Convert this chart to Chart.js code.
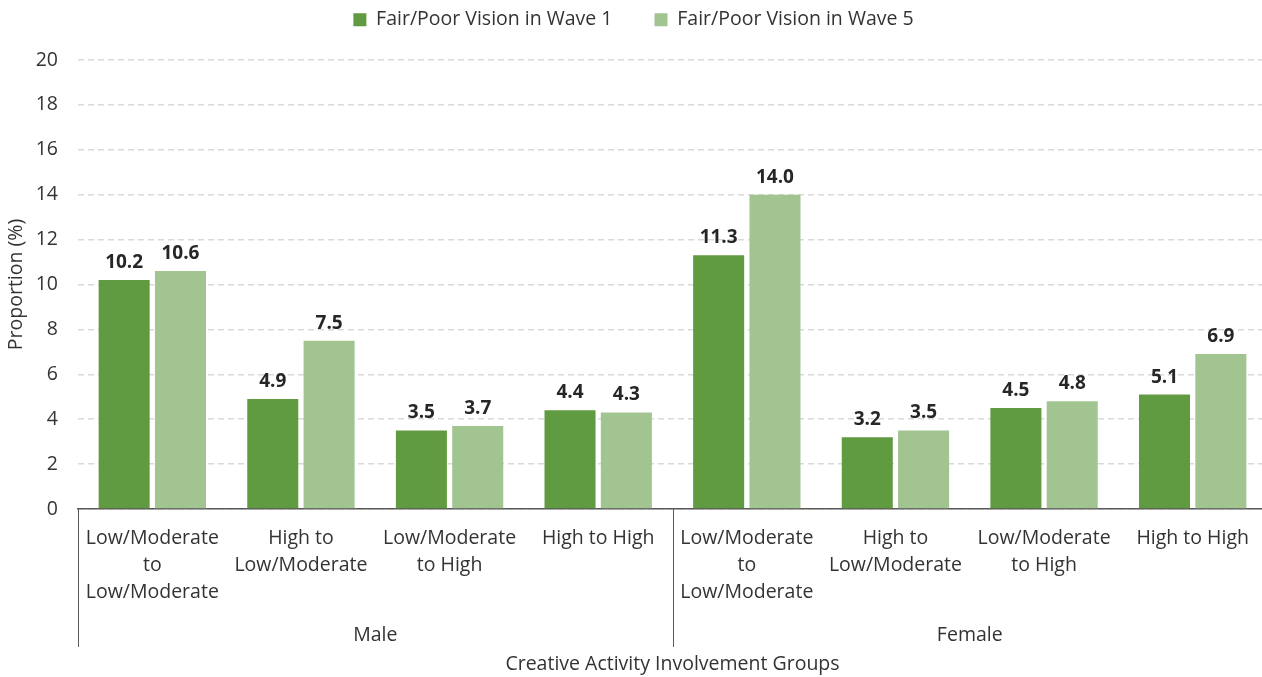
<!DOCTYPE html>
<html>
<head>
<meta charset="utf-8">
<script src="https://cdn.jsdelivr.net/npm/chart.js@4"></script>
<style>
  html, body { margin: 0; padding: 0; background: #fff; overflow: hidden; }
  #wrap { width: 1270px; height: 677px; }
</style>
</head>
<body>
<div id="wrap"><canvas id="chart"></canvas></div>
<script>
// data
const groups = ["Male", "Female"];
const subgroups = [
  ["Low/Moderate", "to", "Low/Moderate"],
  ["High to", "Low/Moderate"],
  ["Low/Moderate", "to High"],
  ["High to High"],
];
const categories = [...subgroups, ...subgroups];
const wave1 = [10.2, 4.9, 3.5, 4.4, 11.3, 3.2, 4.5, 5.1];
const wave5 = [10.6, 7.5, 3.7, 4.3, 14.0, 3.5, 4.8, 6.9];
const seriesNames = ["Fair/Poor Vision in Wave 1", "Fair/Poor Vision in Wave 5"];
const yMax = 20;
const yStep = 2;

const FONT = "'Open Sans', 'Noto Sans', sans-serif";
const SIZE = 19.5;
const TEXT = "#333333";
const AXIS = "#595959";

// legend gets a fixed height so the plot starts where the reference does
const legendHeight = {
  id: "legendHeight",
  beforeInit(chart) {
    const fit = chart.legend.fit;
    chart.legend.fit = function () {
      fit.call(this);
      this.height = 92;
    };
  },
};

// bold values above each bar
const valueLabels = {
  id: "valueLabels",
  afterDatasetsDraw(chart) {
    const { ctx } = chart;
    ctx.save();
    ctx.font = `bold 19px ${FONT}`;
    ctx.fillStyle = "#262626";
    ctx.textAlign = "center";
    ctx.textBaseline = "alphabetic";
    chart.data.datasets.forEach((ds, i) => {
      chart.getDatasetMeta(i).data.forEach((bar, j) => {
        ctx.fillText(ds.data[j].toFixed(1), bar.x, bar.y - 12);
      });
    });
    ctx.restore();
  },
};

// second level of the category axis: Male / Female with separators
const groupAxis = {
  id: "groupAxis",
  afterDraw(chart) {
    const { ctx, scales: { x }, chartArea } = chart;
    const per = subgroups.length;
    const half = (x.getPixelForValue(1) - x.getPixelForValue(0)) / 2;
    ctx.save();
    ctx.strokeStyle = AXIS;
    ctx.lineWidth = 1;
    ctx.font = `${SIZE}px ${FONT}`;
    ctx.fillStyle = TEXT;
    ctx.textAlign = "center";
    ctx.textBaseline = "middle";
    groups.forEach((g, gi) => {
      const x0 = x.getPixelForValue(gi * per) - half;
      const x1 = x.getPixelForValue(gi * per + per - 1) + half;
      ctx.beginPath();
      ctx.moveTo(Math.round(x0) + 0.5, chartArea.bottom);
      ctx.lineTo(Math.round(x0) + 0.5, chartArea.bottom + 138);
      ctx.stroke();
      ctx.fillText(g, (x0 + x1) / 2, chartArea.bottom + 126);
    });
    ctx.restore();
  },
};

new Chart(document.getElementById("chart"), {
  type: "bar",
  data: {
    labels: categories,
    datasets: [
      { label: seriesNames[0], data: wave1, backgroundColor: "#619B41" },
      { label: seriesNames[1], data: wave5, backgroundColor: "#A2C490" },
    ],
  },
  options: {
    responsive: true,
    maintainAspectRatio: false,
    animation: false,
    layout: { padding: { top: -32, right: 3, left: 0, bottom: 0 } },
    datasets: { bar: { categoryPercentage: 0.758, barPercentage: 0.906 } },
    plugins: {
      tooltip: { enabled: false },
      legend: {
        position: "top",
        labels: {
          boxWidth: 13,
          boxHeight: 13,
          padding: 42,
          color: TEXT,
          font: { family: FONT, size: SIZE },
        },
      },
    },
    scales: {
      x: {
        grid: { display: false, drawTicks: false },
        border: { display: true, color: AXIS, width: 1.5 },
        ticks: {
          autoSkip: false,
          maxRotation: 0,
          padding: 16,
          color: TEXT,
          font: { family: FONT, size: SIZE, lineHeight: 27 / SIZE },
        },
        title: {
          display: true,
          text: "Creative Activity Involvement Groups",
          color: TEXT,
          font: { family: FONT, size: SIZE },
          padding: { bottom: 1 },
        },
        afterFit(s) { s.height = 168; },
      },
      y: {
        min: 0,
        max: yMax,
        grid: { color: "#d9d9d9", lineWidth: 1.5, drawTicks: false },
        border: { display: false, dash: [6, 4] },
        ticks: {
          stepSize: yStep,
          padding: 20,
          color: TEXT,
          font: { family: FONT, size: SIZE },
        },
        title: {
          display: true,
          text: "Proportion (%)",
          color: TEXT,
          font: { family: FONT, size: SIZE },
          padding: { top: 5 },
        },
        afterFit(s) { s.width = 78; },
      },
    },
  },
  plugins: [legendHeight, valueLabels, groupAxis],
});
</script>
</body>
</html>
